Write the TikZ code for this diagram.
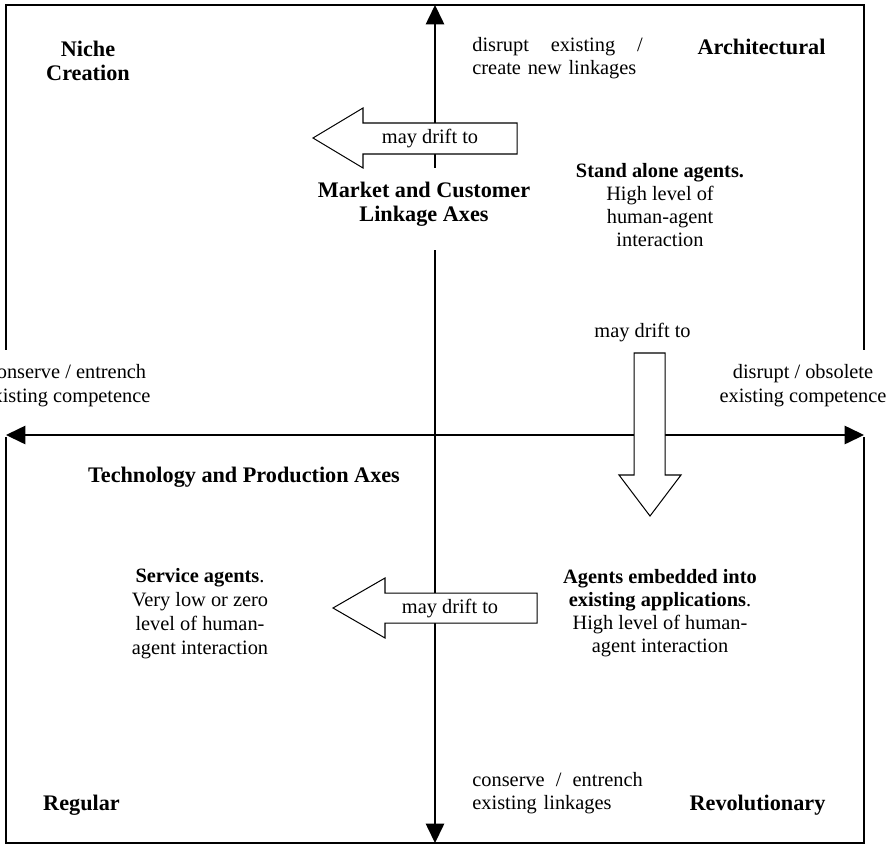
\documentclass[tikz,border=0pt]{standalone}
\usepackage{fontspec}
\setmainfont{Liberation Serif}
\usetikzlibrary{arrows.meta}

\begin{document}
\begin{tikzpicture}
[x=0.54pt, y=-0.54pt,
quadframe/.style={line width=0.9pt},
axisline/.style={line width=0.7pt, {Triangle[length=10.5pt,width=10pt]}-{Triangle[length=10.5pt,width=10pt]}},
corner/.style={font=\fontsize{12}{13}\selectfont\bfseries, align=center},
note/.style={font=\fontsize{11}{12.5}\selectfont, align=center},
cover/.style={fill=white, inner xsep=1pt, inner ysep=7.5pt},
drift/.style={draw, fill=white, line width=0.55pt}]

\useasboundingbox (0,0) rectangle (893,845);
\draw[quadframe] (6,5) rectangle (864,843);

\coordinate (mtop) at (435,5);
\coordinate (mbot) at (435,843);
\draw[axisline] (mtop) -- (mbot);

\node (niche) [corner] at (88,60.5) {Niche\\Creation};
\node (arch) [corner] at (761.5,47) {Architectural};
\node (regular) [corner] at (81.5,805) {Regular};
\node (revol) [corner] at (757.5,805) {Revolutionary};

\node (newlink) [note,align=left,text width=92pt,inner sep=0pt,anchor=west] at (472,58.5)
  {disrupt\hfill existing\hfill /\\create new linkages};
\node (oldlink) [note,align=left,text width=92pt,inner sep=0pt,anchor=west] at (472,793.5)
  {conserve\hfill /\hfill entrench\\existing linkages};

\node (mktaxis) [corner,cover,anchor=north] at (424,168)
  {Market and Customer\\Linkage Axes\rule[-8pt]{0pt}{8pt}};
\node (oldcomp) [note,cover,font=\fontsize{11}{13}\selectfont,anchor=north] at (67,350)
  {conserve / entrench\\existing competence\rule[-11pt]{0pt}{11pt}};
\node (newcomp) [note,cover,font=\fontsize{11}{13}\selectfont,anchor=north] at (803,350)
  {disrupt / obsolete\\existing competence\rule[-11pt]{0pt}{11pt}};
\node (tecaxis) [corner] at (244,477) {Technology and Production Axes};

\node (standalone) [note] at (660,205)
  {\textbf{Stand alone agents.}\\High level of\\human-agent\\interaction};
\node (service) [note,font=\fontsize{11}{13}\selectfont] at (200,614)
  {\textbf{Service agents}.\\Very low or zero\\level of human-\\agent interaction};
\node (embedded) [note] at (660,613)
  {\textbf{Agents embedded into}\\\textbf{existing applications}.\\High level of human-\\agent interaction};

\coordinate (tleft) at (6,435);
\coordinate (tright) at (864,435);
\draw[axisline] (tleft) -- (tright);

\draw[drift] (313,138) -- (363,108) -- (363,123) -- (517,123) -- (517,154) -- (363,154) -- (363,168) -- cycle;
\node (drift1) [note] at (430,139) {may drift to};

\node (drift2) [note] at (642.5,333) {may drift to};
\draw[drift] (650,516) -- (619,475) -- (634,475) -- (634,353) -- (665,353) -- (665,475) -- (681,475) -- cycle;

\draw[drift] (333,608) -- (385,578) -- (385,593) -- (537,593) -- (537,623) -- (385,623) -- (385,638) -- cycle;
\node (drift3) [note] at (450,609) {may drift to};

\end{tikzpicture}
\end{document}
